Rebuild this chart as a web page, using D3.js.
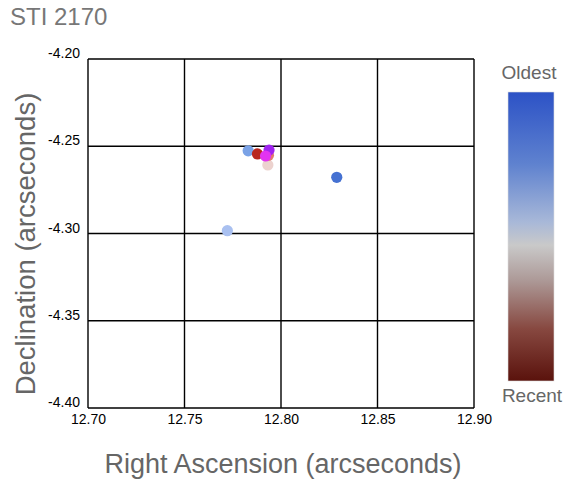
<!DOCTYPE html>
<html><head><meta charset="utf-8">
<script src="https://cdn.jsdelivr.net/npm/d3@7"></script>
<style>body{margin:0;background:#fff}svg{display:block;font-family:"Liberation Sans",Arial,sans-serif}</style>
</head><body><div id="c"></div>
<script>
const title = "STI 2170";
const xTicks = [12.70, 12.75, 12.80, 12.85, 12.90];
const yTicks = [-4.20, -4.25, -4.30, -4.35, -4.40];
const raValues  = [12.7722, 12.8289, 12.7830, 12.7932, 12.7935, 12.7878, 12.7938, 12.7920];
const decValues = [-4.2984, -4.2678, -4.2526, -4.2607, -4.2552, -4.2544, -4.2522, -4.2556];
const pointColors = ["#a9c0f0", "#4571d2", "#7aa2e6", "#ecd2ce", "#e27a6c", "#b8261e", "#a024f0", "#e234f0"];
const barStops = [[0, "#2c52c6"], [0.25, "#5f82cf"], [0.45, "#a8b8d8"], [0.53, "#c9c9c9"], [0.65, "#ad9a98"], [0.82, "#874840"], [1, "#5a120c"]];
const barLabels = ["Oldest", "Recent"];

const W = 572, H = 482;
const fmt = d => d.toFixed(2);
const svg = d3.select("#c").append("svg").attr("width", W).attr("height", H);
const x = d3.scaleLinear().domain([12.70, 12.90]).range([88, 474]);
const y = d3.scaleLinear().domain([-4.20, -4.40]).range([59, 408]);

svg.append("text").attr("x", 10).attr("y", 25).attr("fill", "#777").attr("font-size", 24).text(title);

// grid
const g = svg.append("g");
g.selectAll("line.vx").data(xTicks).join("line").attr("x1", d => x(d)).attr("x2", d => x(d))
  .attr("y1", y(-4.20)).attr("y2", y(-4.40)).attr("stroke", "#000").attr("stroke-width", 1.4);
g.selectAll("line.hy").data(yTicks).join("line").attr("y1", d => y(d)).attr("y2", d => y(d))
  .attr("x1", x(12.70)).attr("x2", x(12.90)).attr("stroke", "#000").attr("stroke-width", 1.4);

// tick labels
const xa = svg.append("g").attr("transform", `translate(0,${y(-4.40)})`)
  .call(d3.axisBottom(x).tickValues(xTicks).tickFormat(fmt).tickSize(0).tickPadding(6));
xa.select(".domain").remove();
xa.selectAll("text").attr("font-size", 14).attr("fill", "#000").attr("font-family", "Liberation Sans, Arial");
const ya = svg.append("g").attr("transform", `translate(${x(12.70)},0)`)
  .call(d3.axisLeft(y).tickValues(yTicks).tickFormat(fmt).tickSize(0).tickPadding(8));
ya.select(".domain").remove();
ya.selectAll("text").attr("font-size", 14).attr("fill", "#000").attr("font-family", "Liberation Sans, Arial")
  .attr("dy", "-0.1em");

// axis titles
svg.append("text").attr("x", 283).attr("y", 473).attr("text-anchor", "middle").attr("fill", "#666")
  .attr("font-size", 27).text("Right Ascension (arcseconds)");
svg.append("text").attr("transform", "translate(35,244) rotate(-90)").attr("text-anchor", "middle")
  .attr("fill", "#666").attr("font-size", 27.5).text("Declination (arcseconds)");

// points
svg.append("g").selectAll("circle").data(raValues.map((r, i) => ({r, d: decValues[i], c: pointColors[i]})))
  .join("circle").attr("cx", d => x(d.r)).attr("cy", d => y(d.d)).attr("r", 5.6).attr("fill", d => d.c);

// color bar
const defs = svg.append("defs");
const lg = defs.append("linearGradient").attr("id", "cb").attr("x1", 0).attr("x2", 0).attr("y1", 0).attr("y2", 1);
lg.selectAll("stop").data(barStops).join("stop").attr("offset", d => d[0]).attr("stop-color", d => d[1]);
svg.append("rect").attr("x", 508).attr("y", 92).attr("width", 46).attr("height", 289)
  .attr("fill", "url(#cb)").attr("stroke", "#ddd").attr("stroke-width", 0.6);
svg.append("text").attr("x", 529).attr("y", 79).attr("text-anchor", "middle").attr("fill", "#666")
  .attr("font-size", 19).text(barLabels[0]);
svg.append("text").attr("x", 532).attr("y", 402).attr("text-anchor", "middle").attr("fill", "#666")
  .attr("font-size", 19).text(barLabels[1]);
</script></body></html>
